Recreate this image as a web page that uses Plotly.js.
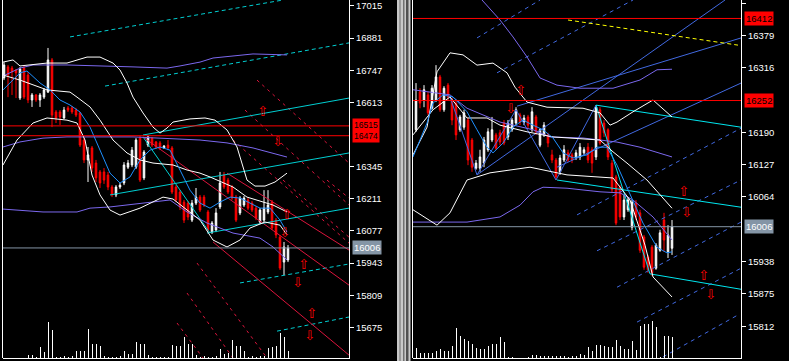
<!DOCTYPE html>
<html><head><meta charset="utf-8">
<script src="https://cdn.plot.ly/plotly-3.0.1.min.js"></script>
<style>html,body{margin:0;padding:0;background:#000;}#chart{width:789px;height:361px;}</style>
</head><body><div id="chart"></div>
<script>
// ---------- LEFT PANEL DATA ----------
const L_open  = [16715,16761,16756,16748,16631,16756,16727,16623,16644,16623,16635,16656,16790,16573,16573,16548,16590,16590,16581,16569,16456,16373,16423,16360,16323,16323,16310,16260,16227,16260,16277,16343,16352,16343,16464,16298,16435,16464,16448,16444,16423,16435,16423,16260,16239,16197,16193,16122,16193,16218,16218,16156,16072,16081,16177,16310,16289,16260,16218,16152,16185,16206,16193,16172,16114,16122,16156,16197,16122,16051,15947,15956];
const L_high  = [16781,16769,16765,16752,16761,16769,16740,16652,16648,16652,16673,16840,16798,16581,16581,16594,16598,16598,16590,16573,16464,16427,16431,16373,16331,16339,16323,16268,16268,16277,16364,16373,16427,16464,16473,16414,16473,16469,16452,16452,16435,16456,16431,16268,16247,16206,16202,16206,16256,16227,16227,16164,16118,16172,16323,16323,16298,16268,16227,16222,16222,16214,16202,16181,16172,16247,16247,16206,16131,16060,16031,16018];
const L_low   = [16706,16635,16644,16631,16623,16627,16610,16594,16615,16594,16627,16652,16510,16527,16519,16544,16573,16565,16552,16427,16360,16281,16323,16281,16256,16273,16247,16218,16218,16252,16268,16335,16343,16335,16281,16289,16427,16427,16419,16414,16419,16414,16231,16197,16164,16110,16122,16114,16185,16156,16177,16072,16064,16072,16168,16252,16231,16206,16114,16143,16177,16164,16156,16122,16106,16114,16147,16081,16047,15914,15893,15947];
const L_close = [16769,16727,16740,16736,16752,16635,16623,16644,16623,16644,16665,16790,16560,16548,16552,16581,16581,16573,16560,16435,16373,16394,16339,16298,16277,16289,16260,16227,16260,16268,16352,16360,16414,16456,16289,16406,16469,16435,16427,16423,16431,16423,16239,16206,16177,16122,16135,16193,16218,16164,16185,16081,16110,16152,16277,16260,16239,16214,16122,16214,16214,16172,16164,16131,16164,16172,16185,16089,16060,15922,16010,16006];
const L_volume = [0,0,0,0,0,0,3,3,1.5,11,6,36,28,1,1.5,2,1.5,2,7,7,7,29,14,14,12,2,1.5,1.5,1.5,2,7,4,4,16,14,14,3,1.5,1,1.5,1.5,1.5,13,12,12,21,14,14,3.5,1.5,2,1.5,1.5,2,9,4,5,18,12,12,7,1.5,2,1.5,2,2,10,11,12,25,21,7];
const L_ticks = [17015,16881,16747,16613,16345,16211,16077,15943,15809,15675];
const L_redLevels = [16515,16474];
const L_bid = 16006;

const L_purpleTop_x = [-0.25,4,7.25,15.75,32.25,40.75,44,49,52.25,62.25,70.75];
const L_purpleTop_y = [16723,16756,16769,16769,16761,16756,16765,16781,16798,16815,16811];
const L_purpleMid_x = [-0.25,4,9.75,15.75,32.25,40.75,49,55.75,62.25,70.75];
const L_purpleMid_y = [16427,16448,16464,16469,16469,16464,16456,16444,16423,16385];
const L_purpleLow_x = [-0.25,9.75,18.25,21.5,26.5,34,41.5,45.75,50.75,57.25,64,67.25,70.75];
const L_purpleLow_y = [16168,16156,16156,16172,16177,16193,16206,16156,16110,16068,16047,16010,15956];
const L_blue_x = [-0.25,4,5.75,9,11.5,14,16.5,19,21.5,24,26.5,29,31.5,34,36.5,39,41.5,44,46.5,49,51.5,54,56.5,59,61.5,64,66.5,69,70.75];
const L_blue_y = [16665,16736,16744,16694,16665,16623,16602,16573,16510,16414,16318,16277,16302,16373,16414,16427,16414,16331,16247,16193,16172,16197,16218,16214,16193,16172,16172,16122,16072];
const L_bbUp_x = [-0.25,2.25,4,10.75,15.75,18.25,20.75,24,27.25,29,30.75,32.25,34.75,37.25,39,40.75,42.25,46.5,50.25,52.75,55.75,58.25,59.75,60.75,62.75,65.25,67.75,70.75];
const L_bbUp_y = [16781,16790,16765,16777,16777,16790,16802,16802,16777,16748,16694,16635,16569,16510,16485,16506,16531,16544,16548,16539,16498,16427,16343,16289,16264,16264,16281,16318];
const L_bbMid_x = [-0.25,4,10.75,16.5,18.25,21.5,24,27.25,30.75,34,37.25,42.25,45.75,49,51.5,57.25,60.75,67.25,70.75];
const L_bbMid_y = [16727,16706,16665,16656,16635,16594,16539,16456,16402,16373,16360,16352,16331,16318,16302,16260,16218,16185,16156];
const L_bbLow_x = [-0.25,3.25,7.25,10.75,15.75,18.25,20.25,22,24,26.5,29,34,39.75,42.25,49,52.25,55.75,59,61.5,65.25,69,70.75];
const L_bbLow_y = [16352,16456,16527,16548,16539,16527,16456,16310,16227,16164,16143,16172,16218,16210,16122,16039,16010,16039,16089,16114,16101,16060];

// trend lines: [x0, price0, x1, price1]
const L_cyanSolid = [[34.75,16477,86.25,16631],[26.5,16227,86.25,16402],[50.75,16068,86.25,16172],[34.75,16469,51.5,16068]];
const L_cyanDash  = [[16.5,16886,69.75,17040],[25.25,16681,86.25,16861],[59,15860,86.25,15939],[68.25,15659,86.25,15718]];
const L_redSolid  = [[34.75,16469,86.25,15851],[55.75,16318,86.25,15997],[52.25,16031,86.25,15559]];
const L_redDash   = [[63.25,16706,86.25,16360],[60.25,16581,86.25,16185],[57.25,16456,86.25,16026],[69.75,16289,86.25,16051],[80.75,16289,86.25,16214],[48.25,15943,65.75,15547],[45.75,15818,57.25,15547],[43.25,15693,49.75,15547]];
const L_arrowUp   = [[64.75,16569],[70.75,16140],[75,15934],[77,15726]];
const L_arrowDown = [[68.5,16444],[70.25,16064],[73.5,15856],[76.5,15636]];

// ---------- RIGHT PANEL DATA ----------
const R_open  = [16195,16269,16253,16263,16237,16253,16298,16234,16282,16253,16247,16195,16200,16214,16175,16120,16120,16130,16156,16175,16185,16189,16208,16181,16195,16208,16224,16210,16220,16195,16220,16165,16185,16185,16146,16136,16113,16136,16150,16146,16140,16142,16150,16161,16156,16142,16234,16208,16195,16130,16103,16083,16025,16039,16005,16052,16033,15986,15947,15966,15925,15960,16019,15957,15964];
const R_high  = [16286,16276,16282,16269,16282,16321,16302,16280,16286,16257,16253,16224,16234,16218,16179,16136,16156,16181,16198,16220,16189,16195,16214,16214,16218,16239,16228,16224,16224,16239,16224,16198,16210,16189,16156,16140,16146,16165,16156,16150,16156,16169,16161,16169,16161,16243,16239,16214,16198,16136,16107,16087,16068,16064,16058,16058,16039,15990,15951,15970,15974,16000,16033,16009,16019];
const R_low   = [16191,16237,16239,16224,16234,16249,16230,16230,16253,16204,16175,16191,16195,16126,16113,16117,16113,16122,16152,16171,16156,16165,16165,16175,16191,16204,16204,16204,16198,16191,16185,16161,16181,16161,16130,16097,16107,16132,16132,16130,16136,16136,16146,16130,16111,16136,16165,16181,16136,16072,16009,16019,16019,16035,15999,16019,15955,15922,15916,15910,15922,15957,15957,15945,15951];
const R_close = [16253,16247,16273,16228,16276,16298,16234,16276,16259,16214,16185,16220,16228,16136,16122,16130,16142,16175,16191,16195,16159,16171,16169,16208,16214,16234,16210,16218,16204,16230,16191,16195,16204,16169,16136,16103,16140,16156,16136,16136,16150,16161,16156,16136,16130,16239,16169,16189,16142,16078,16013,16025,16058,16058,16054,16025,15960,15927,15922,15916,15970,15994,15980,15990,16006];
const R_volume = [10,5.3,4.7,4.7,4.7,7,8.7,6.7,6.7,12,30,22,19.3,16.7,13.7,10,8.7,9.3,12,14.3,13.7,21,16,1,1,0.3,0,0,1,2.7,2.7,2,2,2,2,2,2,2,1,2,2,3.7,2.7,11,6.7,13.3,13.3,12,11,11,18.3,12,9.3,9.3,16.7,8.3,32,33.7,34.3,37,31,1,22,22,21];
const R_ticks = [16442,16379,16316,16190,16127,16064,15938,15875,15812];
const R_redLevels = [16412,16252];
const R_bid = 16006;

const R_purpleTop_x = [16.5,21,24.25,27.75,31,35.25,41,49.25,56,60.25,64];
const R_purpleTop_y = [16448,16409,16376,16337,16296,16282,16276,16276,16292,16312,16313];
const R_purpleMid_x = [-0.75,8.5,12.75,21,29.25,33.5,41.75,50.25,56,64];
const R_purpleMid_y = [16273,16263,16237,16210,16195,16181,16179,16171,16161,16142];
const R_purpleLow_x = [-0.75,12.75,21,26,29.25,31.75,37.75,46,51,54.25,59.25,64];
const R_purpleLow_y = [16015,16015,16025,16048,16074,16083,16081,16074,16072,16058,16025,15980];
const R_blue_x = [-0.75,2.75,4.25,6.75,9.25,12.75,15.25,17.75,19.25,21.75,24.25,26.75,29.25,31.75,34.25,36.75,39.25,42.75,45.25,47.75,50.25,54.25,56.75,60.25,62.75,64];
const R_blue_y = [16142,16208,16247,16263,16259,16230,16195,16161,16150,16169,16200,16214,16204,16195,16179,16150,16140,16146,16161,16161,16126,16058,16013,15966,15955,15957];
const R_bbUp_x = [-0.75,2.75,5.25,8.5,11.75,15.25,19.25,22.75,24.75,27.75,32.75,41.75,46,48.5,50.25,54.25,59.25,62.75,64];
const R_bbUp_y = [16146,16200,16308,16345,16341,16321,16325,16306,16278,16249,16239,16237,16228,16204,16210,16230,16253,16228,16220];
const R_bbMid_x = [-0.75,4.25,8.5,12.75,17.75,21,27.75,34.25,46,49.25,52.75,57.75,64];
const R_bbMid_y = [16185,16234,16259,16218,16218,16204,16191,16181,16175,16152,16130,16097,16042];
const R_bbLow_x = [-0.75,5.25,8.5,12.75,18.5,28.5,37.75,46,49.25,53.5,57.25,59.25,64];
const R_bbLow_y = [16039,16009,16033,16097,16111,16122,16107,16103,16101,16058,15970,15908,15869];
const R_zigzag_x = [8.5,15.25,25,35,45];
const R_zigzag_y = [16259,16107,16234,16097,16243];

const R_blueSolid = [[15.25,16107,77.25,16448],[25.25,16241,81.25,16374],[35.25,16122,81.25,16286]];
const R_blueDash  = [[15.25,16374,31,16448],[20.25,16306,54.25,16448],[40.25,16029,81.25,16198],[45.25,15959,81.25,16097],[50.25,15888,81.25,16015],[55.25,15820,81.25,15925],[61.75,15752,80.5,15834]];
const R_cyan      = [[45,16243,81.25,16200],[35.25,16097,81.25,16044],[58.5,15914,81.25,15884],[45,16243,58.5,15914]];
const R_yellowDash= [[38,16409,80.5,16360]];
const R_arrowUp   = [[26.25,16269],[67,16072],[72,15908]];
const R_arrowDown = [[23.75,16235],[67.75,16031],[73.75,15871]];

// ---------- BUILD ----------
const W = 789, H = 361;
const LX = [3, 349], RX = [413, 741];
const idx = n => Array.from({length:n}, (_, i) => i);
function seg(list){ const x=[],y=[]; list.forEach(s=>{x.push(s[0],s[2],null);y.push(s[1],s[3],null);}); return {x,y}; }

const COL = {purple:'#7B68EE', blue:'#1E90FF', white:'#FFFFFF', cyan:'#00CED1', red:'#FF0000', crimson:'#DC143C', royal:'#4169E1', yellow:'#FFFF00', bidgray:'#8495A6'};
const DASH = {red:'3px,4px', cyan:'4px,3px', blue:'4px,4px', yellow:'4px,3px'};

function line(x,y,color,xa,ya,dash,width){ return {type:'scatter',mode:'lines',x,y,xaxis:xa,yaxis:ya,line:{color,width:width||1,dash:dash||'solid'},hoverinfo:'skip',showlegend:false,connectgaps:false}; }
function segTrace(list,color,xa,ya,dash){ const s=seg(list); return line(s.x,s.y,color,xa,ya,dash); }
function arrows(list,glyph,xa,ya){ return {type:'scatter',mode:'text',x:list.map(a=>a[0]),y:list.map(a=>a[1]),text:list.map(()=>glyph),textposition:'middle center',textfont:{color:'#FF0000',size:13.5,family:'DejaVu Sans'},xaxis:xa,yaxis:ya,hoverinfo:'skip',showlegend:false}; }
function candles(o,h,l,c,xa,ya){ return {type:'candlestick',x:idx(o.length),open:o,high:h,low:l,close:c,xaxis:xa,yaxis:ya,whiskerwidth:0,
  increasing:{line:{color:'#FFFFFF',width:1},fillcolor:'#FFFFFF'},decreasing:{line:{color:'#FF0000',width:1},fillcolor:'#FF0000'},hoverinfo:'skip',showlegend:false}; }
function vol(v,xa,ya){ return {type:'bar',x:idx(v.length),y:v,width:0.25,marker:{color:'#FFFFFF',line:{width:0}},xaxis:xa,yaxis:ya,hoverinfo:'skip',showlegend:false}; }

const traces = [
  // left
  segTrace(L_redDash,COL.crimson,'x','y',DASH.red),
  segTrace(L_cyanDash,COL.cyan,'x','y',DASH.cyan),
  segTrace(L_redSolid,COL.crimson,'x','y'),
  segTrace(L_cyanSolid,COL.cyan,'x','y'),
  candles(L_open,L_high,L_low,L_close,'x','y'),
  line(L_purpleTop_x,L_purpleTop_y,COL.purple,'x','y'),
  line(L_purpleMid_x,L_purpleMid_y,COL.purple,'x','y'),
  line(L_purpleLow_x,L_purpleLow_y,COL.purple,'x','y'),
  line(L_bbUp_x,L_bbUp_y,COL.white,'x','y'),
  line(L_bbMid_x,L_bbMid_y,COL.white,'x','y'),
  line(L_bbLow_x,L_bbLow_y,COL.white,'x','y'),
  line(L_blue_x,L_blue_y,COL.blue,'x','y'),
  arrows(L_arrowUp,'\u21E7','x','y'),
  arrows(L_arrowDown,'\u21E9','x','y'),
  // right
  segTrace(R_blueDash,COL.royal,'x2','y2',DASH.blue),
  segTrace(R_blueSolid,COL.royal,'x2','y2'),
  segTrace(R_yellowDash,COL.yellow,'x2','y2',DASH.yellow),
  line(R_zigzag_x,R_zigzag_y,COL.royal,'x2','y2'),
  segTrace(R_cyan,'#00E5EE','x2','y2'),
  candles(R_open,R_high,R_low,R_close,'x2','y2'),
  line(R_purpleTop_x,R_purpleTop_y,COL.purple,'x2','y2'),
  line(R_purpleMid_x,R_purpleMid_y,COL.purple,'x2','y2'),
  line(R_purpleLow_x,R_purpleLow_y,COL.purple,'x2','y2'),
  line(R_bbUp_x,R_bbUp_y,COL.white,'x2','y2'),
  line(R_bbMid_x,R_bbMid_y,COL.white,'x2','y2'),
  line(R_bbLow_x,R_bbLow_y,COL.white,'x2','y2'),
  line(R_blue_x,R_blue_y,COL.blue,'x2','y2'),
  arrows(R_arrowUp,'\u21E7','x2','y2'),
  arrows(R_arrowDown,'\u21E9','x2','y2'),
  // volumes
  vol(L_volume,'x','y3'),
  vol(R_volume,'x2','y4')
];

const yDom = [3/H, 1];
const tickFont = {color:'#FFFFFF', size:9.5, family:'Liberation Sans'};
function yax(ticks, range){ return {domain:yDom, range, side:'right', showgrid:false, zeroline:false, showline:true, linecolor:'#FFFFFF', linewidth:1,
  ticks:'outside', ticklen:4, tickcolor:'#FFFFFF', tickvals:ticks, ticktext:ticks.map(String), tickfont:tickFont, fixedrange:true}; }
function xax(dom, range){ return {domain:dom, range, showgrid:false, zeroline:false, showline:true, linecolor:'#FFFFFF', linewidth:1, showticklabels:false, ticks:'', rangeslider:{visible:false}, fixedrange:true}; }

const shapes = [];
L_redLevels.forEach(p=>shapes.push({type:'line',xref:'x domain',yref:'y',x0:0,x1:1,y0:p,y1:p,line:{color:COL.red,width:1}}));
shapes.push({type:'line',xref:'x domain',yref:'y',x0:0,x1:1,y0:L_bid,y1:L_bid,line:{color:COL.bidgray,width:1}});
R_redLevels.forEach(p=>shapes.push({type:'line',xref:'x2 domain',yref:'y2',x0:0,x1:1,y0:p,y1:p,line:{color:COL.red,width:1}}));
shapes.push({type:'line',xref:'x2 domain',yref:'y2',x0:0,x1:1,y0:R_bid,y1:R_bid,line:{color:COL.bidgray,width:1}});
// panel borders
shapes.push({type:'line',xref:'paper',yref:'paper',x0:2.5/W,x1:2.5/W,y0:yDom[0],y1:1,line:{color:'#FFFFFF',width:1}});
shapes.push({type:'line',xref:'paper',yref:'paper',x0:412.5/W,x1:412.5/W,y0:yDom[0],y1:1,line:{color:'#FFFFFF',width:1}});
// splitter between the two windows
const split = [[397,411,'#C8C8C8'],[399,401,'#9A9A9A'],[403,404.5,'#707070'],[406,408.5,'#505050'],[410.5,412,'#000000']];
split.forEach(s=>shapes.push({type:'rect',xref:'paper',yref:'paper',x0:s[0]/W,x1:s[1]/W,y0:0,y1:1,fillcolor:s[2],line:{width:0},layer:'above'}));

const annFont = {color:'#000000', size:9.5, family:'Liberation Sans'};
function tag(text, xpx, yref, y, bg, fc, size){ return {xref:'paper',x:xpx/W,xanchor:'left',yref,y,yanchor:'middle',text,showarrow:false,bgcolor:bg,borderpad:1,align:'left',
  font:Object.assign({},annFont,{color:fc||'#000000', size:size||9.5})}; }
const annotations = [
  tag(L_redLevels.map(String).join('<br>'),352,'y',(L_redLevels[0]+L_redLevels[1])/2,'#FF0000','#000000',8.5),
  tag(String(L_bid),352,'y',L_bid,COL.bidgray,'#FFFFFF'),
  tag(String(R_redLevels[0]),744,'y2',R_redLevels[0],'#FF0000'),
  tag(String(R_redLevels[1]),744,'y2',R_redLevels[1],'#FF0000'),
  tag(String(R_bid),744,'y2',R_bid,COL.bidgray,'#FFFFFF')
];

const layout = {
  width:W, height:H, margin:{l:0,r:0,t:0,b:0}, paper_bgcolor:'#000000', plot_bgcolor:'#000000',
  showlegend:false, boxgap:0.45, bargap:0, font:{family:'Liberation Sans', color:'#FFFFFF'},
  xaxis: xax([LX[0]/W, LX[1]/W], [-0.25, 86.25]),
  yaxis: Object.assign(yax(L_ticks, [15547, 17040]), {anchor:'x'}),
  xaxis2: xax([RX[0]/W, RX[1]/W], [-0.75, 81.25]),
  yaxis2: Object.assign(yax(R_ticks, [15750, 16448]), {anchor:'x2'}),
  yaxis3: {domain:yDom, overlaying:'y', anchor:'x', range:[0,358], visible:false, fixedrange:true},
  yaxis4: {domain:yDom, overlaying:'y2', anchor:'x2', range:[0,358], visible:false, fixedrange:true},
  shapes, annotations
};
layout.xaxis.anchor = 'y';
layout.xaxis2.anchor = 'y2';

Plotly.newPlot('chart', traces, layout, {staticPlot:true, displayModeBar:false});
</script></body></html>
